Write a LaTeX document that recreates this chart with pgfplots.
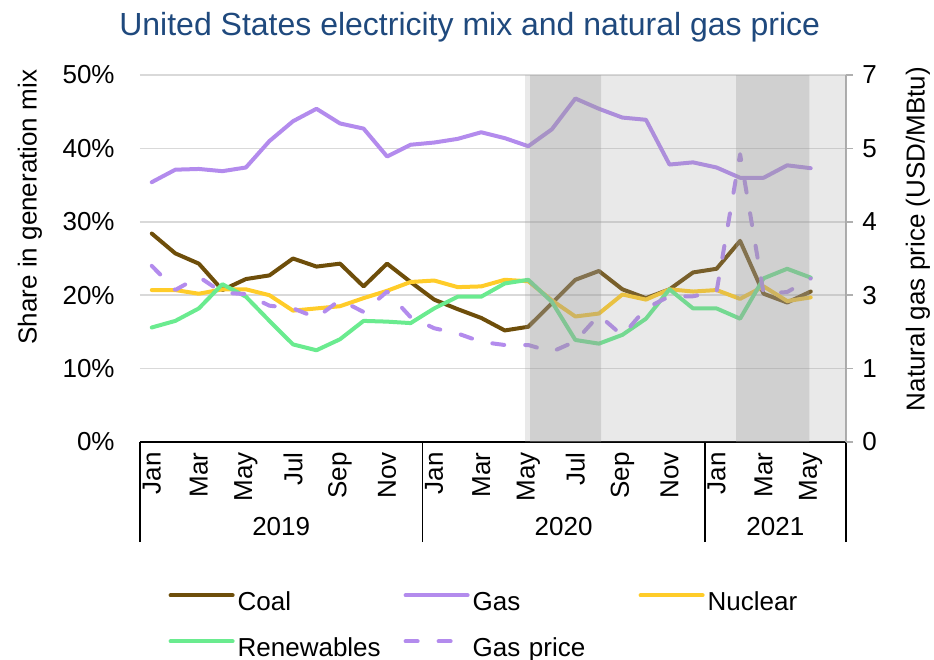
\documentclass[border=0pt]{standalone}
\usepackage{pgfplots}
\pgfplotsset{compat=1.18}
\usepackage{fontspec}
\setmainfont{Liberation Sans}
\definecolor{coal}{RGB}{110,78,10}
\definecolor{gas}{RGB}{179,139,237}
\definecolor{nuclear}{RGB}{255,204,41}
\definecolor{renew}{RGB}{106,235,143}
\definecolor{titleblue}{RGB}{31,73,125}
\definecolor{gridgray}{RGB}{217,217,217}
\definecolor{axgray}{RGB}{175,175,175}
\definecolor{shade}{RGB}{156,156,156}
\newcommand{\lbl}{\fontsize{13}{15.6}\selectfont}
\pgfplotsset{
  serie/.style={line width=2pt, line join=round, line cap=round, mark=none},
  mylegend/.style={legend image code/.code={\draw[##1] (0pt,4pt) -- (31pt,4pt);}},
}
\begin{document}
\begin{tikzpicture}
\useasboundingbox (0,0) rectangle (467pt,330pt);
\begin{axis}[
  at={(70pt,109pt)}, anchor=south west,
  width=353pt, height=183.5pt, scale only axis,
  xmin=-0.5, xmax=29.5, ymin=0, ymax=50,
  clip mode=individual,
  axis x line*=bottom, axis y line*=left,
  y axis line style={draw=none},
  x axis line style={black, line width=0.75pt},
  xtick={0,2,...,28},
  xticklabels={Jan,Mar,May,Jul,Sep,Nov,Jan,Mar,May,Jul,Sep,Nov,Jan,Mar,May},
  xtick style={draw=none},
  extra x ticks={-0.5,11.5,23.5,29.5},
  extra x tick labels={},
  extra x tick style={xtick style={draw=black, line width=0.75pt}, major tick length=50pt, tick align=outside},
  xticklabel style={rotate=90, anchor=east, inner sep=0pt, font=\lbl},
  xticklabel shift=5pt,
  ytick={0,10,...,50},
  yticklabels={0\%,10\%,20\%,30\%,40\%,50\%},
  ytick style={draw=none},
  yticklabel style={anchor=east, inner sep=0pt, font=\lbl},
  yticklabel shift=12.5pt,
  ymajorgrids, grid style={gridgray, line width=0.75pt},
  ylabel={Share in generation mix},
  ylabel style={at={(axis description cs:-0.156,0.640)}, anchor=center, font=\lbl},
  title={United States electricity mix and natural gas price},
  title style={at={(axis description cs:0.467,1.098)}, anchor=center, font=\fontsize{16}{19}\selectfont, color=titleblue},
]
\addplot[serie, coal] coordinates {
(0,28.4)(1,25.7)(2,24.3)(3,20.7)(4,22.2)(5,22.7)(6,25.0)(7,23.9)(8,24.3)(9,21.2)(10,24.3)(11,21.8)
(12,19.4)(13,18.1)(14,16.9)(15,15.2)(16,15.7)(17,18.9)(18,22.1)(19,23.3)(20,20.8)(21,19.6)(22,20.8)(23,23.1)
(24,23.6)(25,27.4)(26,20.2)(27,19.0)(28,20.5)};
\addplot[serie, gas] coordinates {
(0,35.4)(1,37.1)(2,37.2)(3,36.9)(4,37.4)(5,41.0)(6,43.7)(7,45.4)(8,43.4)(9,42.7)(10,38.9)(11,40.5)
(12,40.8)(13,41.3)(14,42.2)(15,41.4)(16,40.3)(17,42.6)(18,46.8)(19,45.4)(20,44.2)(21,43.9)(22,37.8)(23,38.1)
(24,37.4)(25,36.0)(26,36.0)(27,37.7)(28,37.3)};
\addplot[serie, nuclear] coordinates {
(0,20.7)(1,20.7)(2,20.2)(3,20.8)(4,20.8)(5,20.0)(6,17.9)(7,18.2)(8,18.5)(9,19.6)(10,20.6)(11,21.8)
(12,22.0)(13,21.1)(14,21.2)(15,22.1)(16,21.9)(17,19.3)(18,17.1)(19,17.5)(20,20.1)(21,19.4)(22,20.8)(23,20.5)
(24,20.7)(25,19.5)(26,21.2)(27,19.2)(28,19.7)};
\addplot[serie, renew] coordinates {
(0,15.6)(1,16.5)(2,18.2)(3,21.5)(4,19.8)(5,16.5)(6,13.3)(7,12.5)(8,14.0)(9,16.5)(10,16.4)(11,16.2)
(12,18.2)(13,19.8)(14,19.8)(15,21.6)(16,22.1)(17,19.1)(18,13.9)(19,13.4)(20,14.6)(21,16.8)(22,20.8)(23,18.2)
(24,18.2)(25,16.8)(26,22.3)(27,23.6)(28,22.4)};
\node[font=\lbl, anchor=center] at (axis cs:5.5,0) [yshift=-42.5pt] {2019};
\node[font=\lbl, anchor=center] at (axis cs:17.5,0) [yshift=-42.5pt] {2020};
\node[font=\lbl, anchor=center] at (axis cs:26.5,0) [yshift=-42.5pt] {2021};
\end{axis}
\begin{axis}[
  at={(70pt,109pt)}, anchor=south west,
  width=353pt, height=183.5pt, scale only axis,
  xmin=-0.5, xmax=29.5, ymin=0, ymax=7,
  axis y line*=right, axis x line=none,
  y axis line style={axgray, line width=0.75pt},
  ytick={0,1.4,2.8,4.2,5.6,7},
  yticklabels={0,1,3,4,5,7},
  ytick style={axgray, line width=0.75pt},
  tick align=outside, major tick length=3.5pt,
  yticklabel style={anchor=west, inner sep=0pt, font=\lbl},
  yticklabel shift=4.5pt,
  ylabel={Natural gas price (USD/MBtu)},
  ylabel style={at={(axis description cs:1.102,0.553)}, anchor=center, font=\lbl},
  mylegend,
  legend columns=3,
  legend cell align=left,
  legend style={at={(axis description cs:0.040,-0.403)}, anchor=north west, draw=none, fill=none,
    inner sep=0pt, font=\lbl, row sep=10pt,
    nodes={inner sep=0pt, text width=83pt, text height=10pt, text depth=3pt},
    /tikz/every odd column/.append style={column sep=1.5pt}},
]
\addlegendimage{serie, coal}\addlegendentry{Coal}
\addlegendimage{serie, gas}\addlegendentry{Gas}
\addlegendimage{serie, nuclear}\addlegendentry{Nuclear}
\addlegendimage{serie, renew}\addlegendentry{Renewables}
\addplot[serie, gas, dash pattern=on 6pt off 10.5pt] coordinates {
(0,3.36)(1,2.90)(2,3.15)(3,2.85)(4,2.82)(5,2.60)(6,2.55)(7,2.37)(8,2.71)(9,2.48)(10,2.87)(11,2.38)
(12,2.17)(13,2.07)(14,1.91)(15,1.85)(16,1.85)(17,1.72)(18,1.92)(19,2.42)(20,2.03)(21,2.55)(22,2.78)(23,2.78)
(24,2.87)(25,5.49)(26,2.83)(27,2.86)(28,3.12)};
\addlegendentry{Gas price}
\addplot[draw=none, fill=shade, fill opacity=0.22, forget plot] coordinates {(15.87,0)(15.87,7)(29.5,7)(29.5,0)} \closedcycle;
\addplot[draw=none, fill=shade, fill opacity=0.325, forget plot] coordinates {(16.08,0)(16.08,7)(19.09,7)(19.09,0)} \closedcycle;
\addplot[draw=none, fill=shade, fill opacity=0.325, forget plot] coordinates {(24.83,0)(24.83,7)(27.94,7)(27.94,0)} \closedcycle;
\end{axis}
\end{tikzpicture}
\end{document}
